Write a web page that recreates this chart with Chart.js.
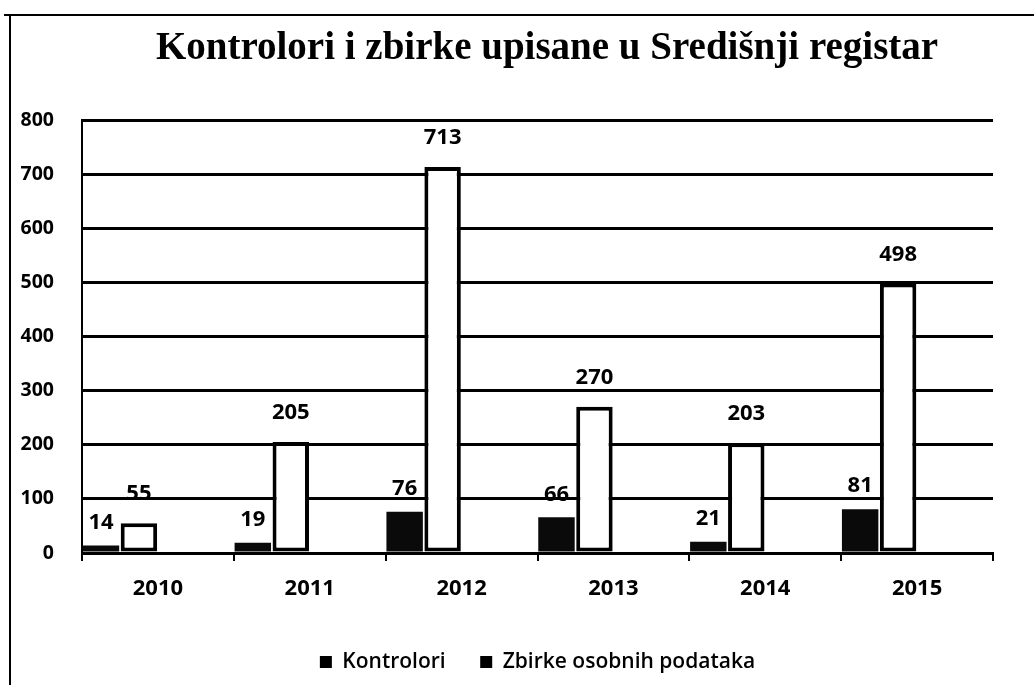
<!DOCTYPE html>
<html>
<head>
<meta charset="utf-8">
<script src="https://cdn.jsdelivr.net/npm/chart.js@4.4.0/dist/chart.umd.min.js"></script>
<style>
  html, body { margin: 0; padding: 0; background: #fff; }
  #wrap { position: relative; width: 1034px; height: 685px; }
  canvas { display: block; }
</style>
</head>
<body>
<div id="wrap"><canvas id="c" width="1034" height="685"></canvas></div>
<script>
const years = ['2010', '2011', '2012', '2013', '2014', '2015'];
const kontrolori = [14, 19, 76, 66, 21, 81];
const zbirke = [55, 205, 713, 270, 203, 498];
const emptySeries = [null, null, null, null, null, null];
const yTicks = [0, 100, 200, 300, 400, 500, 600, 700, 800];
const titleText = 'Kontrolori i zbirke upisane u Središnji registar';
const labelKontrolori = 'Kontrolori';
const labelZbirke = 'Zbirke osobnih podataka';

const frame = {
  id: 'frame',
  beforeDraw(chart) {
    const ctx = chart.ctx;
    ctx.save();
    ctx.fillStyle = '#fff';
    ctx.fillRect(0, 0, chart.width, chart.height);
    ctx.strokeStyle = '#000';
    ctx.lineWidth = 2;
    ctx.beginPath();
    ctx.moveTo(4, 15);
    ctx.lineTo(chart.width, 15);
    ctx.moveTo(10, 15);
    ctx.lineTo(10, chart.height);
    ctx.stroke();
    ctx.restore();
  },
  afterDraw(chart) {
    const ctx = chart.ctx;
    ctx.save();
    ctx.fillStyle = '#000';
    ctx.font = 'bold 39px "Liberation Serif"';
    ctx.textAlign = 'center';
    ctx.textBaseline = 'alphabetic';
    ctx.fillText(titleText, 547, 59);
    ctx.restore();
  }
};

const valueLabels = {
  id: 'valueLabels',
  afterDatasetsDraw(chart) {
    const ctx = chart.ctx;
    ctx.save();
    ctx.font = 'bold 22px "Open Sans"';
    ctx.fillStyle = '#000';
    ctx.textAlign = 'center';
    ctx.textBaseline = 'middle';
    chart.data.datasets.forEach((ds, di) => {
      if (!ds.showValues) return;
      const meta = chart.getDatasetMeta(di);
      meta.data.forEach((bar, i) => {
        const v = ds.data[i];
        if (v == null) return;
        ctx.fillText(String(v), bar.x, bar.y - ds.valueOffset);
      });
    });
    ctx.restore();
  }
};

new Chart(document.getElementById('c'), {
  type: 'bar',
  data: {
    labels: years,
    datasets: [
      { label: labelKontrolori, data: kontrolori, backgroundColor: '#0a0a0a', borderColor: '#0a0a0a', borderWidth: 0, showValues: true, valueOffset: 23 },
      { label: labelZbirke, data: zbirke, backgroundColor: '#ffffff', borderColor: '#000', borderWidth: 4, borderSkipped: false, showValues: true, valueOffset: 29 },
      { label: '', data: emptySeries, backgroundColor: 'transparent' },
      { label: '', data: emptySeries, backgroundColor: 'transparent' }
    ]
  },
  options: {
    responsive: false,
    animation: false,
    categoryPercentage: 1,
    barPercentage: 0.96,
    layout: { padding: { left: 0, right: 41, top: 120, bottom: 2.5 } },
    plugins: {
      tooltip: { enabled: false },
      title: { display: false },
      legend: {
        position: 'bottom',
        fullSize: false,
        labels: {
          color: '#000',
          font: { family: '"Open Sans"', size: 21, weight: '600' },
          boxWidth: 12,
          boxHeight: 12,
          padding: 34.5,
          filter: (item) => item.text !== '',
          generateLabels: (chart) => chart.data.datasets.map((ds, i) => ({
            text: ds.label, fillStyle: '#000', strokeStyle: '#000', lineWidth: 0, datasetIndex: i
          }))
        }
      }
    },
    scales: {
      x: {
        offset: true,
        grid: { display: true, drawOnChartArea: false, drawTicks: true, tickLength: 8, color: '#000', lineWidth: 2, offset: true },
        border: { display: true, color: '#000', width: 3 },
        ticks: { color: '#000', font: { family: '"Open Sans"', size: 22, weight: 'bold' }, padding: 15 },
        afterFit: (s) => { s.height = 64; }
      },
      y: {
        min: 0,
        max: 800,
        afterBuildTicks: (s) => { s.ticks = yTicks.map(v => ({ value: v })); },
        grid: { color: '#000', lineWidth: 3, drawTicks: false },
        border: { display: true, color: '#000', width: 2 },
        ticks: { color: '#000', font: { family: '"Open Sans"', size: 19.5, weight: 'bold' }, padding: 28 },
        afterFit: (s) => { s.width = 82; }
      }
    }
  },
  plugins: [frame, valueLabels]
});
</script>
</body>
</html>
